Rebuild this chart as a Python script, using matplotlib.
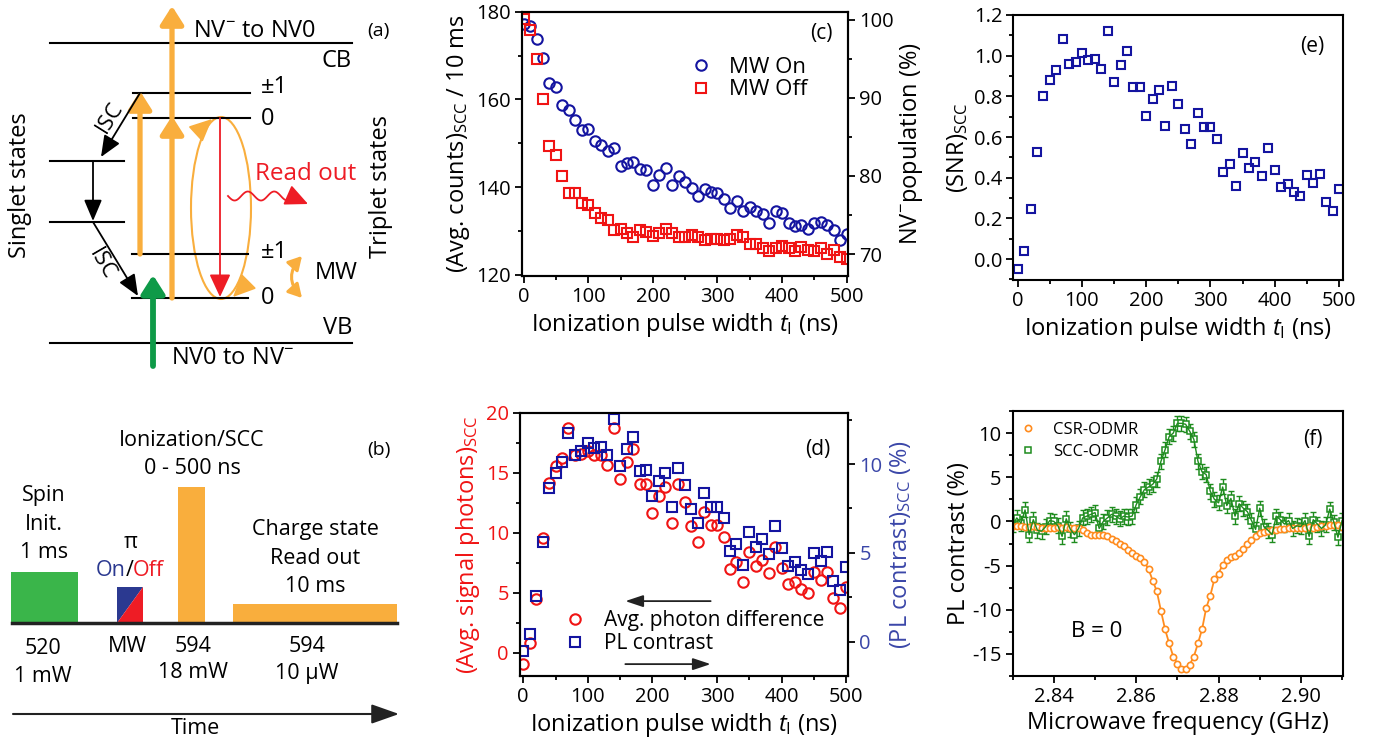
import numpy as np
import matplotlib.pyplot as plt
from matplotlib.patches import Rectangle, Polygon, Ellipse
from matplotlib.ticker import MultipleLocator, FormatStrFormatter

plt.rcParams['font.family'] = ['Open Sans', 'DejaVu Sans']
plt.rcParams['mathtext.fontset'] = 'custom'
plt.rcParams['mathtext.rm'] = 'Open Sans'
plt.rcParams['mathtext.it'] = 'Open Sans:italic'
plt.rcParams['axes.unicode_minus'] = False
plt.rcParams['axes.linewidth'] = 1.5

W, H = 1380, 747

# ---- data -------------------------------------------------------------
pulse_ns = np.arange(0, 501, 10)

c_mw_on = [177.2, 176.7, 173.8, 169.5, 163.7, 162.9, 158.7, 157.6, 155.3, 153.0,
           153.2, 150.5, 149.6, 148.2, 148.9, 144.9, 145.4, 145.8, 144.1, 143.9,
           140.5, 142.8, 144.3, 140.5, 142.6, 141.2, 139.7, 138.0, 139.5, 138.8,
           138.7, 137.3, 135.2, 136.7, 134.6, 135.5, 134.5, 133.8, 131.9, 134.6,
           134.0, 131.7, 131.1, 131.4, 130.5, 131.9, 132.1, 131.3, 130.1, 128.0,
           129.2]
c_mw_off = [178.3, 175.8, 169.2, 160.0, 149.4, 147.3, 142.5, 138.7, 138.7, 136.4,
            135.8, 134.0, 133.0, 132.5, 130.1, 130.4, 129.6, 128.7, 130.1, 129.8,
            128.9, 129.6, 130.4, 129.6, 128.5, 128.6, 129.1, 128.6, 127.8, 128.2,
            128.1, 127.8, 128.2, 129.0, 128.7, 127.0, 127.0, 126.2, 125.5, 126.0,
            126.6, 126.0, 125.3, 126.3, 125.7, 125.3, 126.0, 124.7, 125.7, 124.1,
            123.6]

d_photon_diff = [-0.94, 0.78, 4.47, 9.58, 14.17, 15.56, 16.19, 18.69, 16.47, 16.53,
                 16.8, 16.5, 16.5, 15.64, 18.75, 14.47, 15.86, 16.94, 14.03, 14.03,
                 11.61, 13.06, 13.78, 10.78, 14.06, 12.53, 10.56, 9.25, 11.69, 10.64,
                 10.64, 9.61, 6.97, 7.58, 5.86, 8.42, 7.25, 7.72, 6.61, 8.83,
                 7.08, 5.72, 5.92, 5.31, 5.0, 6.69, 6.06, 6.69, 4.53, 3.69,
                 5.5]
d_pl_contrast = [-0.53, 0.43, 2.59, 5.59, 8.63, 9.51, 10.13, 11.76, 10.51, 10.73,
                 11.16, 10.88, 10.98, 10.51, 12.51, 9.89, 10.83, 11.54, 9.62, 9.66,
                 8.2, 9.06, 9.47, 7.6, 9.76, 8.82, 7.47, 6.66, 8.35, 7.6,
                 7.6, 6.94, 5.12, 5.5, 4.32, 6.19, 5.35, 5.76, 4.93, 6.51,
                 5.25, 4.28, 4.47, 4.03, 3.79, 4.97, 4.54, 5.03, 3.43, 2.91,
                 4.22]

e_snr = [-0.051, 0.041, 0.244, 0.525, 0.802, 0.880, 0.930, 1.082, 0.957, 0.970,
         1.011, 0.979, 0.982, 0.933, 1.121, 0.869, 0.954, 1.023, 0.844, 0.844,
         0.705, 0.787, 0.831, 0.654, 0.851, 0.762, 0.639, 0.566, 0.716, 0.651,
         0.651, 0.589, 0.430, 0.467, 0.361, 0.520, 0.449, 0.479, 0.408, 0.544,
         0.438, 0.356, 0.369, 0.328, 0.310, 0.413, 0.375, 0.418, 0.282, 0.236,
         0.343]

freq_ghz = np.round(np.arange(2.830, 2.9105, 0.001), 3)
csr_odmr = [-0.5, -0.5, -0.5, -0.6, -0.6, -0.5, -0.6, -0.7, -0.7, -0.7,
            -0.7, -0.6, -0.7, -0.6, -0.7, -0.7, -0.8, -1.0, -1.3, -1.5,
            -1.5, -1.5, -1.5, -1.7, -2.0, -2.2, -2.5, -2.8, -3.2, -3.6,
            -3.9, -4.1, -4.6, -5.4, -6.7, -7.9, -10.1, -12.2, -13.8, -15.3,
            -16.1, -16.7, -16.7, -16.2, -15.3, -13.8, -12.2, -9.8, -8.4, -6.5,
            -5.9, -4.9, -4.4, -4.0, -3.9, -3.6, -3.1, -2.6, -2.1, -1.7,
            -1.3, -1.2, -1.1, -1.0, -1.0, -0.9, -0.9, -0.8, -0.8, -0.8,
            -0.7, -0.8, -0.6, -0.7, -0.6, -0.5, -0.5, -0.4, -0.4, -0.4,
            -0.6]
scc_odmr = [-0.4, 0.4, -0.2, 1.3, -1.5, 0.2, -1.0, -1.1, -0.6, 0.1,
            0.0, -0.5, -1.7, 0.3, -0.9, -1.5, -0.8, 0.4, 0.6, 0.8,
            1.0, -0.8, 0.0, 0.4, 0.8, 0.6, 0.3, 0.6, 0.5, 0.6,
            1.9, 2.8, 3.6, 3.9, 4.2, 4.8, 6.8, 8.1, 9.6, 10.0,
            11.1, 11.1, 11.0, 10.2, 9.3, 6.8, 5.6, 5.3, 3.4, 2.5,
            2.1, 3.9, 1.8, 2.6, 0.6, 2.0, 1.5, 1.1, 0.1, -0.9,
            1.5, -0.6, -1.0, -1.5, 0.6, 0.2, -0.3, 0.1, -0.8, -0.5,
            -0.6, 0.1, -1.7, 0.2, -0.3, -0.8, -0.4, 1.4, -0.1, -1.8,
            0.1]
scc_err = 0.85

# ---- colours ----------------------------------------------------------
BLUE = '#1414A0'
RED = '#F01414'
F_ORANGE = '#FF8C1E'
F_GREEN = '#1E8C1E'
S_ORANGE = '#F9AE3D'
S_GREEN = '#3AB54A'
S_BLUE = '#2B3990'
S_RED = '#EE1C25'
YL_BLUE = '#3A46A8'

TICK = 14.5
LAB = 17

fig = plt.figure(figsize=(13.8, 7.47), dpi=100)


def box(left, top, right, bottom):
    return [left / W, 1 - bottom / H, (right - left) / W, (bottom - top) / H]


def style(ax, right=False):
    ax.tick_params(which='both', direction='out', labelsize=TICK, width=1.3,
                   top=False, right=right, pad=3)
    ax.tick_params(which='major', length=5)
    ax.tick_params(which='minor', length=3)


# ---- schematic overlay for (a) and (b) --------------------------------
ov = fig.add_axes([0, 0, 1, 1])
ov.set_xlim(0, W)
ov.set_ylim(H, 0)
ov.axis('off')


def arrow(p0, p1, color, lw, hl=0.9, hw=0.5, ms=10, style='-|>', cs=None):
    props = dict(arrowstyle=f'{style},head_length={hl},head_width={hw}',
                 color=color, lw=lw, shrinkA=0, shrinkB=0, mutation_scale=ms)
    if cs:
        props['connectionstyle'] = cs
    ov.annotate('', xy=p1, xytext=p0, arrowprops=props)


blk = dict(color='black', lw=1.5)
ov.plot([50, 352], [43, 43], **blk)
ov.plot([50, 352], [343, 343], **blk)
ov.plot([133, 250], [93, 93], **blk)
ov.plot([133, 250], [118, 118], **blk)
ov.plot([132, 248], [254, 254], **blk)
ov.plot([132, 248], [298, 298], **blk)
ov.plot([50, 124], [161, 161], **blk)
ov.plot([50, 124], [222, 222], **blk)

arrow((140, 254), (140, 91), S_ORANGE, 3.8, 1.1, 0.7)
arrow((172, 298), (172, 116), S_ORANGE, 3.8, 1.1, 0.7)
arrow((172, 118), (172, 6), S_ORANGE, 3.8, 1.1, 0.7)
arrow((153, 366), (153, 275), '#0E9A48', 4.2, 1.1, 0.7)
arrow((220, 118), (220, 297), S_RED, 1.3, 1.4, 0.65)
arrow((93, 161), (93, 221), 'black', 1.3, 1.3, 0.55)
arrow((140, 93), (101, 157), 'black', 1.3, 1.3, 0.55)
arrow((93, 222), (138, 296), 'black', 1.3, 1.3, 0.55)
ov.text(110, 117, 'ISC', rotation=58, ha='center', va='center', fontsize=16)
ov.text(102, 264, 'ISC', rotation=-60, ha='center', va='center', fontsize=16)

ov.add_patch(Ellipse((221, 208), 60, 182, fill=False, ec=S_ORANGE, lw=1.5))
arrow((199, 131), (212, 119), S_ORANGE, 1.3, 1.4, 0.65)
arrow((246, 284), (233, 297), S_ORANGE, 1.3, 1.4, 0.65)

wx = np.linspace(228, 294, 120)
ov.plot(wx, 196 + 4.5 * np.sin((wx - 228) / 66 * 5 * np.pi), color=S_RED, lw=1.3)
arrow((292, 197), (308, 204), S_RED, 1.3, 1.4, 0.65)

# MW double arrow between the lower triplet sublevels
arrow((302, 256), (302, 298), S_ORANGE, 2.2, 0.8, 0.45, style='<|-|>', cs='arc3,rad=0.45')

ov.text(255, 31, 'NV$^{-}$ to NV0', ha='center', va='center', fontsize=17)
ov.text(233, 358, 'NV0 to NV$^{-}$', ha='center', va='center', fontsize=17)
ov.text(378, 31, '(a)', ha='center', va='center', fontsize=14)
ov.text(352, 61, 'CB', ha='right', va='center', fontsize=17)
ov.text(352, 328, 'VB', ha='right', va='center', fontsize=17)
ov.text(261, 87, '±1', ha='left', va='center', fontsize=17)
ov.text(261, 119, '0', ha='left', va='center', fontsize=17)
ov.text(261, 252, '±1', ha='left', va='center', fontsize=17)
ov.text(261, 298, '0', ha='left', va='center', fontsize=17)
ov.text(306, 174, 'Read out', color=S_RED, ha='center', va='center', fontsize=17.5)
ov.text(336, 273, 'MW', ha='center', va='center', fontsize=17)
ov.text(20, 185, 'Singlet states', rotation=90, ha='center', va='center', fontsize=17)
ov.text(381, 187, 'Triplet states', rotation=90, ha='center', va='center', fontsize=17)

# panel (b)
ov.add_patch(Rectangle((11, 572), 67, 51, color=S_GREEN, lw=0))
ov.add_patch(Polygon([(117, 623), (117, 587), (143, 587)], closed=True, color=S_BLUE, lw=0))
ov.add_patch(Polygon([(117, 623), (143, 587), (143, 623)], closed=True, color=S_RED, lw=0))
ov.add_patch(Rectangle((178, 487), 27, 136, color=S_ORANGE, lw=0))
ov.add_patch(Rectangle((233, 604), 164, 19, color=S_ORANGE, lw=0))
ov.plot([12, 397], [623, 623], color='#222222', lw=2.5)
arrow((13, 714), (399, 714), '#222222', 1.5, 1.7, 0.6)

tb = dict(ha='center', va='center', fontsize=15.5)
ov.text(44, 496, 'Spin', **tb)
ov.text(44, 524, 'Init.', **tb)
ov.text(44, 552, '1 ms', **tb)
ov.text(131, 543, 'π', **tb)
ov.text(126, 570, 'On', color=S_BLUE, ha='right', va='center', fontsize=15.5)
ov.text(129.5, 570, '/', ha='center', va='center', fontsize=15.5)
ov.text(133, 570, 'Off', color=S_RED, ha='left', va='center', fontsize=15.5)
ov.text(192, 441, 'Ionization/SCC', **tb)
ov.text(192, 469, '0 - 500 ns', **tb)
ov.text(379, 450, '(b)', ha='center', va='center', fontsize=14)
ov.text(315, 530, 'Charge state', **tb)
ov.text(315, 558, 'Read out', **tb)
ov.text(315, 586, '10 ms', **tb)
ov.text(43, 648, '520', **tb)
ov.text(43, 676, '1 mW', **tb)
ov.text(127, 647, 'MW', **tb)
ov.text(193, 646, '594', **tb)
ov.text(193, 673, '18 mW', **tb)
ov.text(307, 646, '594', **tb)
ov.text(307, 673, '10 μW', **tb)
ov.text(195, 729, 'Time', **tb)

xlab = 'Ionization pulse width $t_{\\mathrm{I}}$ (ns)'

# ---- panel (c) --------------------------------------------------------
axc = fig.add_axes(box(521.7, 11.7, 848, 276))
axc.plot(pulse_ns, c_mw_on, 'o', mfc='none', mec=BLUE, ms=7.5, mew=1.5, label='MW On')
axc.plot(pulse_ns, c_mw_off, 's', mfc='none', mec=RED, ms=6.5, mew=1.5, label='MW Off')
axc.set_xlim(-3, 502)
axc.set_ylim(119.7, 180)
axc.xaxis.set_major_locator(MultipleLocator(100))
axc.xaxis.set_minor_locator(MultipleLocator(50))
axc.yaxis.set_major_locator(MultipleLocator(20))
axc.yaxis.set_minor_locator(MultipleLocator(10))
style(axc)
axc.set_xlabel(xlab, fontsize=LAB, labelpad=3)
axc.set_ylabel('(Avg. counts)$_{\\mathrm{SCC}}$ / 10 ms', fontsize=LAB, labelpad=3)
axc.legend(loc='upper left', bbox_to_anchor=(0.48, 0.87), frameon=False, fontsize=16,
           handlelength=1.0, handletextpad=0.8, borderpad=0, labelspacing=0.05)
axc.text(0.919, 0.918, '(c)', transform=axc.transAxes, ha='center', va='center', fontsize=15)
axc2 = axc.twinx()
axc2.set_ylim(67.2, 101)
axc2.yaxis.set_major_locator(MultipleLocator(10))
axc2.yaxis.set_minor_locator(MultipleLocator(5))
style(axc2, right=True)
axc2.set_ylabel('NV$^{-}$population (%)', fontsize=LAB, labelpad=2)

# ---- panel (d) --------------------------------------------------------
axd = fig.add_axes(box(520, 412.7, 848.3, 676))
axd2 = axd.twinx()
axd.plot(pulse_ns, d_photon_diff, 'o', mfc='none', mec=RED, ms=7.5, mew=1.5,
         label='Avg. photon difference')
axd2.plot(pulse_ns, d_pl_contrast, 's', mfc='none', mec=BLUE, ms=6.5, mew=1.5)
axd.plot([], [], 's', mfc='none', mec=BLUE, ms=6.5, mew=1.5, label='PL contrast')
axd.set_xlim(-5, 503)
axd.set_ylim(-1.94, 20)
axd2.set_ylim(-1.93, 12.89)
axd.xaxis.set_major_locator(MultipleLocator(100))
axd.xaxis.set_minor_locator(MultipleLocator(50))
axd.yaxis.set_major_locator(MultipleLocator(5))
axd.yaxis.set_minor_locator(MultipleLocator(2.5))
axd2.yaxis.set_major_locator(MultipleLocator(5))
axd2.yaxis.set_minor_locator(MultipleLocator(2.5))
style(axd)
style(axd2, right=True)
axd.tick_params(axis='y', labelcolor=RED)
axd2.tick_params(axis='y', labelcolor=YL_BLUE)
axd.set_xlabel(xlab, fontsize=LAB, labelpad=3)
axd.set_ylabel('(Avg. signal photons)$_{\\mathrm{SCC}}$', fontsize=LAB, color=RED, labelpad=3)
axd2.set_ylabel('(PL contrast)$_{\\mathrm{SCC}}$ (%)', fontsize=LAB, color=YL_BLUE, labelpad=4)
axd.legend(loc='upper left', bbox_to_anchor=(0.105, 0.29), frameon=False, fontsize=15,
           handlelength=1.0, handletextpad=0.9, borderpad=0, labelspacing=0.1)
axd.annotate('', xy=(158, 4.3), xytext=(290, 4.3),
             arrowprops=dict(arrowstyle='-|>,head_length=0.9,head_width=0.3', color='#222222',
                             lw=1.3, shrinkA=0, shrinkB=0, mutation_scale=12))
axd.annotate('', xy=(290, -0.95), xytext=(158, -0.95),
             arrowprops=dict(arrowstyle='-|>,head_length=0.9,head_width=0.3', color='#222222',
                             lw=1.3, shrinkA=0, shrinkB=0, mutation_scale=12))
axd.text(0.907, 0.862, '(d)', transform=axd.transAxes, ha='center', va='center', fontsize=15)

# ---- panel (e) --------------------------------------------------------
axe = fig.add_axes(box(1013.3, 15, 1342.7, 280))
axe.plot(pulse_ns, e_snr, 's', mfc='none', mec=BLUE, ms=6, mew=1.5)
axe.set_xlim(-6.8, 505.7)
axe.set_ylim(-0.103, 1.2)
axe.xaxis.set_major_locator(MultipleLocator(100))
axe.xaxis.set_minor_locator(MultipleLocator(50))
axe.yaxis.set_major_locator(MultipleLocator(0.2))
axe.yaxis.set_minor_locator(MultipleLocator(0.1))
axe.yaxis.set_major_formatter(FormatStrFormatter('%.1f'))
style(axe)
axe.set_xlabel(xlab, fontsize=LAB, labelpad=3)
axe.set_ylabel('(SNR)$_{\\mathrm{SCC}}$', fontsize=LAB, labelpad=3)
axe.text(0.909, 0.88, '(e)', transform=axe.transAxes, ha='center', va='center', fontsize=15)

# ---- panel (f) --------------------------------------------------------
axf = fig.add_axes(box(1012.7, 411, 1343.3, 676))
axf.errorbar(freq_ghz, scc_odmr, yerr=scc_err, fmt='-', color=F_GREEN, lw=1.0,
             elinewidth=1.0, capsize=2.2, capthick=1.0)
axf.plot(freq_ghz, scc_odmr, 's', mfc='white', mec=F_GREEN, ms=3.8, mew=1.1, label='SCC-ODMR')
axf.plot(freq_ghz, csr_odmr, '-', color=F_ORANGE, lw=1.3)
axf.plot(freq_ghz, csr_odmr, 'o', mfc='white', mec=F_ORANGE, ms=4.5, mew=1.2, label='CSR-ODMR')
axf.set_xlim(2.83, 2.9103)
axf.set_ylim(-17.5, 12.5)
axf.xaxis.set_major_locator(MultipleLocator(0.02))
axf.xaxis.set_minor_locator(MultipleLocator(0.01))
axf.xaxis.set_major_formatter(FormatStrFormatter('%.2f'))
axf.yaxis.set_major_locator(MultipleLocator(5))
axf.yaxis.set_minor_locator(MultipleLocator(2.5))
style(axf)
axf.set_xlabel('Microwave frequency (GHz)', fontsize=LAB, labelpad=3)
axf.set_ylabel('PL contrast (%)', fontsize=LAB, labelpad=1)
h, l = axf.get_legend_handles_labels()
axf.legend(h[::-1], l[::-1], loc='upper left', bbox_to_anchor=(-0.005, 0.99), frameon=False,
           fontsize=12, handlelength=1.0, handletextpad=1.0, borderpad=0, labelspacing=0.35)
axf.text(0.908, 0.891, '(f)', transform=axf.transAxes, ha='center', va='center', fontsize=15)
axf.text(0.254, 0.167, 'B = 0', transform=axf.transAxes, ha='center', va='center', fontsize=16)

fig.savefig('out.png', dpi=100)
